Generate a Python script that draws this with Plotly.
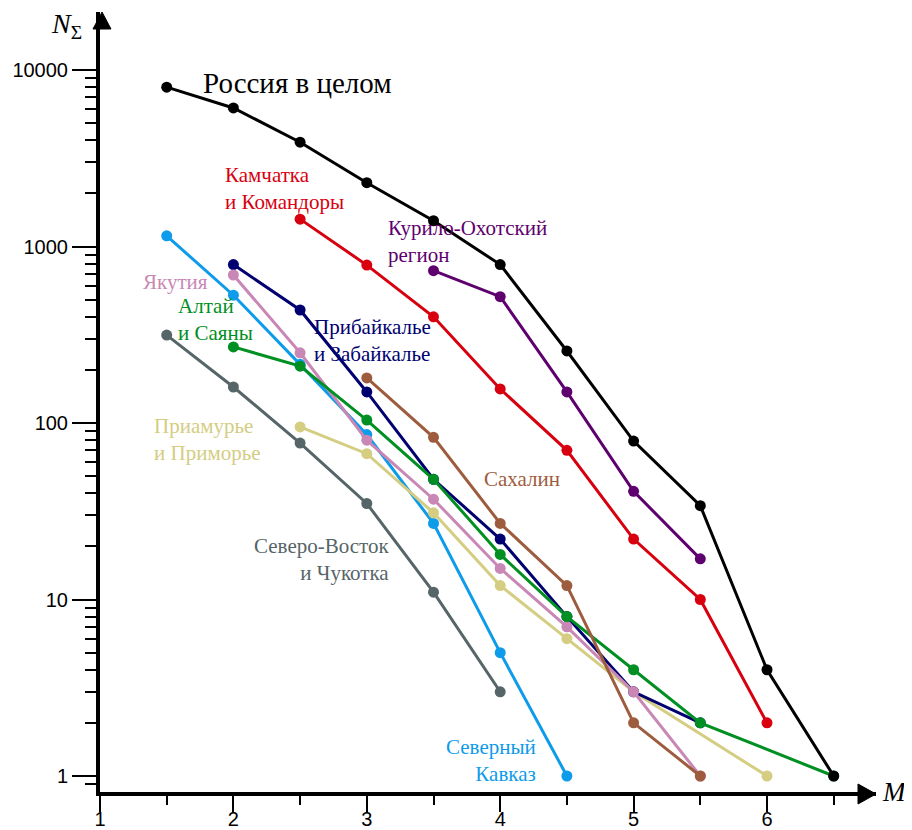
import plotly.graph_objects as go

# ---- data ----
M_russia = [1.5, 2, 2.5, 3, 3.5, 4, 4.5, 5, 5.5, 6, 6.5]
N_russia = [8000, 6100, 3900, 2300, 1400, 790, 256, 79, 34, 4, 1]

M_kam = [2.5, 3, 3.5, 4, 4.5, 5, 5.5, 6]
N_kam = [1430, 785, 400, 156, 70, 22, 10, 2]

M_kur = [3.5, 4, 4.5, 5, 5.5]
N_kur = [730, 520, 150, 41, 17]

M_sakh = [3, 3.5, 4, 4.5, 5, 5.5]
N_sakh = [180, 83, 27, 12, 2, 1]

M_prib = [2, 2.5, 3, 3.5, 4, 4.5, 5, 5.5]
N_prib = [790, 437, 150, 48, 22, 8, 3, 2]

M_yak = [2, 2.5, 3, 3.5, 4, 4.5, 5, 5.5]
N_yak = [690, 250, 80, 37, 15, 7, 3, 1]

M_alt = [2, 2.5, 3, 3.5, 4, 4.5, 5, 5.5, 6.5]
N_alt = [270, 210, 104, 48, 18, 8, 4, 2, 1]

M_pria = [2.5, 3, 3.5, 4, 4.5, 5, 6]
N_pria = [95, 67, 31, 12, 6, 3, 1]

M_sv = [1.5, 2, 2.5, 3, 3.5, 4]
N_sv = [315, 160, 77, 35, 11, 3]

M_kav = [1.5, 2, 2.5, 3, 3.5, 4, 4.5]
N_kav = [1150, 530, 215, 86, 27, 5, 1]

x_ticks = [1, 2, 3, 4, 5, 6]
y_ticks = [1, 10, 100, 1000, 10000]

series = [
    ("Северо-Восток и Чукотка", M_sv, N_sv, "#566568"),
    ("Северный Кавказ", M_kav, N_kav, "#0d9bea"),
    ("Приамурье и Приморье", M_pria, N_pria, "#d4cd82"),
    ("Прибайкалье и Забайкалье", M_prib, N_prib, "#000070"),
    ("Якутия", M_yak, N_yak, "#c987b6"),
    ("Алтай и Саяны", M_alt, N_alt, "#008f22"),
    ("Сахалин", M_sakh, N_sakh, "#9e5c3e"),
    ("Камчатка и Командоры", M_kam, N_kam, "#d8000f"),
    ("Курило-Охотский регион", M_kur, N_kur, "#5e006e"),
    ("Россия в целом", M_russia, N_russia, "#000000"),
]

fig = go.Figure()
for name, xs, ys, col in series:
    fig.add_trace(go.Scatter(
        x=xs, y=ys, mode="lines+markers", name=name,
        line=dict(color=col, width=3),
        marker=dict(color=col, size=11),
        showlegend=False, cliponaxis=False,
    ))

serif = "Liberation Serif, Times New Roman, serif"
labels = [
    ("Россия в целом", 1.76, 3.926, "#000000", 29, "left"),
    ("Камчатка<br>и Командоры", 1.92, 3.331, "#d8000f", 21, "left"),
    ("Курило-Охотский<br>регион", 3.145, 3.026, "#5e006e", 21, "left"),
    ("Якутия", 1.31, 2.799, "#c987b6", 21, "left"),
    ("Алтай<br>и Саяны", 1.57, 2.584, "#008f22", 21, "left"),
    ("Прибайкалье<br>и Забайкалье", 2.59, 2.47, "#000070", 21, "left"),
    ("Приамурье<br>и Приморье", 1.39, 1.904, "#d4cd82", 21, "left"),
    ("Сахалин", 3.86, 1.683, "#9e5c3e", 21, "left"),
    ("Северо-Восток<br>и Чукотка", 3.18, 1.229, "#566568", 21, "right"),
    ("Северный<br>Кавказ", 4.28, 0.0906, "#0d9bea", 21, "right"),
]
for txt, lx, ly, col, fs, al in labels:
    fig.add_annotation(
        x=lx, y=ly, xref="x", yref="y", text=txt, showarrow=False,
        xanchor="left" if al == "left" else "right", yanchor="middle",
        align=al, font=dict(family=serif, size=fs, color=col),
    )

W, H = 776, 780
L, T = 92, 4          # page body adds 8px offset
FW, FH = 904, 822

# axis titles
fig.add_annotation(x=-0.03, y=1.003, xref="paper", yref="paper",
                   text="<i>N</i><sub>Σ</sub>", showarrow=False,
                   xanchor="right", yanchor="top", xshift=7, yshift=4,
                   font=dict(family=serif, size=28, color="black"))
fig.add_annotation(x=1.0, y=0.0, xref="paper", yref="paper",
                   text="<i>M</i>", showarrow=False,
                   xanchor="left", yanchor="middle", xshift=4,
                   font=dict(family=serif, size=27, color="black"))

# arrow heads
fig.add_shape(type="path", xref="paper", yref="paper",
              path=f"M {2/W} 1 L {-7/W} {1-17/H} L {11/W} {1-17/H} Z",
              fillcolor="black", line=dict(color="black", width=1))
fig.add_shape(type="path", xref="paper", yref="paper",
              path=f"M 1 {-2/H} L {1-18/W} {8/H} L {1-18/W} {-12/H} Z",
              fillcolor="black", line=dict(color="black", width=1))

minor_y = []
for d in [0.1, 1, 10, 100, 1000]:
    for k in range(2, 10):
        minor_y.append(k * d)

tickfont = dict(family="Liberation Sans, Arial", size=20, color="black")
fig.update_layout(
    width=FW, height=FH,
    margin=dict(l=L, r=FW - L - W, t=T, b=FH - T - H),
    paper_bgcolor="white", plot_bgcolor="white",
    xaxis=dict(range=[1, 1 + W / 133.4], showgrid=False, zeroline=False,
               automargin=False,
               showline=True, linecolor="black", linewidth=4,
               tickmode="array", tickvals=x_ticks, ticktext=[str(v) for v in x_ticks],
               ticks="outside", ticklen=16, tickwidth=2, tickcolor="black",
               tickfont=tickfont, ticklabelstandoff=-10,
               minor=dict(tickvals=[1.5, 2.5, 3.5, 4.5, 5.5, 6.5], ticks="outside",
                          ticklen=9, tickwidth=2, tickcolor="black")),
    yaxis=dict(type="log", range=[-0.0907, 4.329], showgrid=False, zeroline=False,
               automargin=False,
               showline=True, linecolor="black", linewidth=4,
               tickmode="array", tickvals=y_ticks, ticktext=[str(v) for v in y_ticks],
               ticks="outside", ticklen=24, tickwidth=2, tickcolor="black",
               tickfont=tickfont,
               minor=dict(tickvals=minor_y, ticks="outside",
                          ticklen=11, tickwidth=2, tickcolor="black")),
)

fig.write_html("out.html")
